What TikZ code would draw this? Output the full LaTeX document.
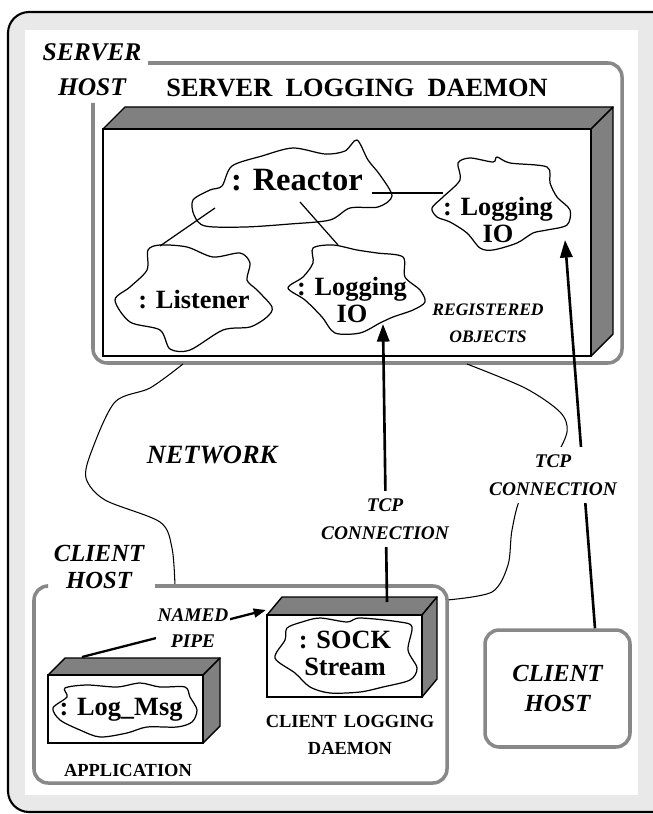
\documentclass[tikz,border=0pt]{standalone}
\usepackage{fontspec}
\setmainfont{Liberation Serif}
\usetikzlibrary{arrows.meta}
\definecolor{framegray}{RGB}{233,233,233}
\definecolor{facegray}{RGB}{128,128,128}
\definecolor{hostgray}{RGB}{136,136,136}

\tikzset{
  hostline/.style={draw=hostgray, line width=2pt, rounded corners=8pt},
  face/.style={fill=facegray, draw=black, line width=0.8pt, line join=round},
  front/.style={fill=white, draw=black, line width=0.8pt},
  blobline/.style={draw=black, line width=0.7pt},
  link/.style={draw=black, line width=0.7pt},
  netline/.style={draw=black, line width=0.6pt},
  tcp/.style={draw=black, line width=1.5pt, -{Triangle[length=10pt,width=7pt]}},
  objlabel/.style={font=\bfseries\fontsize{15}{15.3}\selectfont, align=center, inner sep=0pt},
  hostlabel/.style={font=\bfseries\itshape\fontsize{14}{15.3}\selectfont, align=center},
  conlabel/.style={font=\bfseries\itshape\fontsize{11}{16}\selectfont, align=center, fill=white, inner sep=4pt},
  caption/.style={font=\bfseries\fontsize{10.5}{15}\selectfont, align=center}
}

% front face (x1,y1)-(x2,y2), depth (dx,dy)
\newcommand{\solidbox}[6]{%
  \path[face] (#1,#2) -- ({#1+#5},{#2-#6}) -- ({#3+#5},{#2-#6}) -- (#3,#2) -- cycle;
  \path[face] (#3,#2) -- ({#3+#5},{#2-#6}) -- ({#3+#5},{#4-#6}) -- (#3,#4) -- cycle;
  \path[front] (#1,#2) rectangle (#3,#4);}

\begin{document}
\begin{tikzpicture}[x=0.02cm, y=-0.02cm]
  \useasboundingbox (0,0) rectangle (652,814);
  % frame
  \draw[line width=1.2pt, fill=framegray, rounded corners=12pt] (8,12) rectangle (680,812);
  \fill[white] (25,30) rectangle (638,795);

  % server host
  \draw[hostline] (93,103) -- (93,363) -- (622,363) -- (622,63) -- (148,63);
  \node[hostlabel, font=\bfseries\itshape\fontsize{14.5}{20}\selectfont] (srvhost) at (92,70) {SERVER\\HOST};
  \node[font=\bfseries\fontsize{15}{16}\selectfont] (srvdaemon) at (357,88) {SERVER\hspace{0.5em}LOGGING\hspace{0.5em}DAEMON};
  \solidbox{103}{129}{591}{356}{22}{22}

  % registered objects
  \draw[blobline] plot[smooth cycle] coordinates {(193,200) (210,190) (222,186) (232,166) (262,156) (293,148) (325,154) (345,151) (357,140) (368,160) (380,175) (392,196) (378,207) (350,208) (330,220) (290,224) (245,227) (205,226) (194,215)};
  \node[objlabel, font=\bfseries\fontsize{18.5}{19}\selectfont] (reactor) at (297,180) {: Reactor};
  \draw[blobline] plot[smooth cycle] coordinates {(432,208) (443,197) (460,180) (458,163) (470,158) (493,162) (497,157) (510,163) (547,167) (550,183) (557,197) (570,210) (567,225) (547,230) (533,233) (517,243) (493,250) (480,248) (467,233) (450,222) (437,217)};
  \node[objlabel] (rightio) at (498,220) {: Logging\\IO};
  \draw[blobline] plot[smooth cycle] coordinates {(160,245) (187,247) (213,257) (240,253) (250,263) (247,280) (257,290) (272,307) (267,317) (250,327) (223,330) (190,350) (170,349) (160,330) (130,322) (115,300) (130,287) (147,270) (148,250)};
  \node[objlabel] (listener) at (194,300) {: Listener};
  \draw[blobline] plot[smooth cycle] coordinates {(288,288) (303,277) (313,263) (313,248) (333,245) (357,250) (377,253) (403,257) (405,277) (420,290) (425,302) (413,310) (393,317) (380,323) (360,333) (335,333) (322,317) (305,300)};
  \node[objlabel] (midio) at (352,300) {: Logging\\IO};
  \node[font=\bfseries\itshape\fontsize{10}{15.3}\selectfont, align=center] (regobj) at (488,323) {REGISTERED\\OBJECTS};

  \coordinate (r-west) at (215,208);
  \coordinate (r-south) at (300,202);
  \coordinate (r-east) at (372,193);
  \coordinate (l-top) at (160,246);
  \coordinate (m-top) at (338,245);
  \coordinate (i-west) at (443,193);
  \draw[link] (r-west) -- (l-top);
  \draw[link] (r-south) -- (m-top);
  \draw[link] (r-east) -- (i-west);

  % network
  \draw[netline] plot[smooth] coordinates {(183,364) (150,388) (115,402) (92,450) (86,478) (105,500) (160,522) (172,548) (175,586)};
  \draw[netline] plot[smooth] coordinates {(467,364) (525,388) (560,412) (567,432) (552,462) (522,495) (512,530) (508,565) (492,592) (447,600)};
  \node[font=\bfseries\itshape\fontsize{15}{16}\selectfont] (network) at (212,455) {NETWORK};

  % client host
  \draw[hostline] (47,586) -- (34,586) -- (34,783) -- (447,783) -- (447,586) -- (155,586);
  \node[hostlabel] (clihost) at (99,567) {CLIENT\\HOST};
  \solidbox{48}{675}{203}{743}{17}{17}
  \draw[blobline] plot[smooth cycle] coordinates {(53,708) (67,697) (65,688) (87,685) (117,687) (140,683) (160,687) (185,687) (190,697) (197,710) (192,722) (177,727) (147,727) (127,733) (100,737) (80,730) (60,720)};
  \node[objlabel] (logmsg) at (121,710) {: Log\_Msg};
  \node[caption] (app) at (128,770) {APPLICATION};
  \solidbox{267}{615}{422}{697}{15}{18}
  \draw[blobline] plot[smooth cycle] coordinates {(275,658) (285,640) (287,628) (302,622) (320,618) (347,622) (360,618) (400,622) (412,627) (408,650) (417,668) (410,680) (383,687) (360,692) (330,693) (310,687) (295,673)};
  \node[objlabel] (sock) at (345,653) {: SOCK\\Stream};
  \node[caption] (clidaemon) at (350,735) {CLIENT\hspace{0.4em}LOGGING\\DAEMON};

  % named pipe
  \coordinate (app-top) at (82,657);
  \coordinate (sock-corner) at (266,610);
  \draw[line width=1.3pt, -{Triangle[length=7pt,width=5pt]}] (app-top) -- (sock-corner);
  \node[font=\bfseries\itshape\fontsize{11}{15}\selectfont, align=center, fill=white, inner sep=1pt] (pipe) at (193,628) {NAMED\\PIPE};

  % other client host
  \node[draw=hostgray, line width=2pt, rounded corners=8pt, fill=white, minimum width=2.9cm, minimum height=2.34cm, hostlabel, font=\bfseries\itshape\fontsize{14}{17}\selectfont] (rhost) at (557.5,688.5) {CLIENT\\HOST};

  % tcp connections
  \coordinate (sock-top) at (387,602);
  \coordinate (m-bottom) at (383,324);
  \coordinate (i-bottom) at (565,240);
  \draw[tcp] (sock-top) -- (m-bottom);
  \draw[tcp] ([xshift=0.75cm]rhost.north) -- (i-bottom);
  \node[conlabel] (tcp1) at (385,519) {TCP\\CONNECTION};
  \node[conlabel] (tcp2) at (553,475) {TCP\\CONNECTION};
\end{tikzpicture}
\end{document}
